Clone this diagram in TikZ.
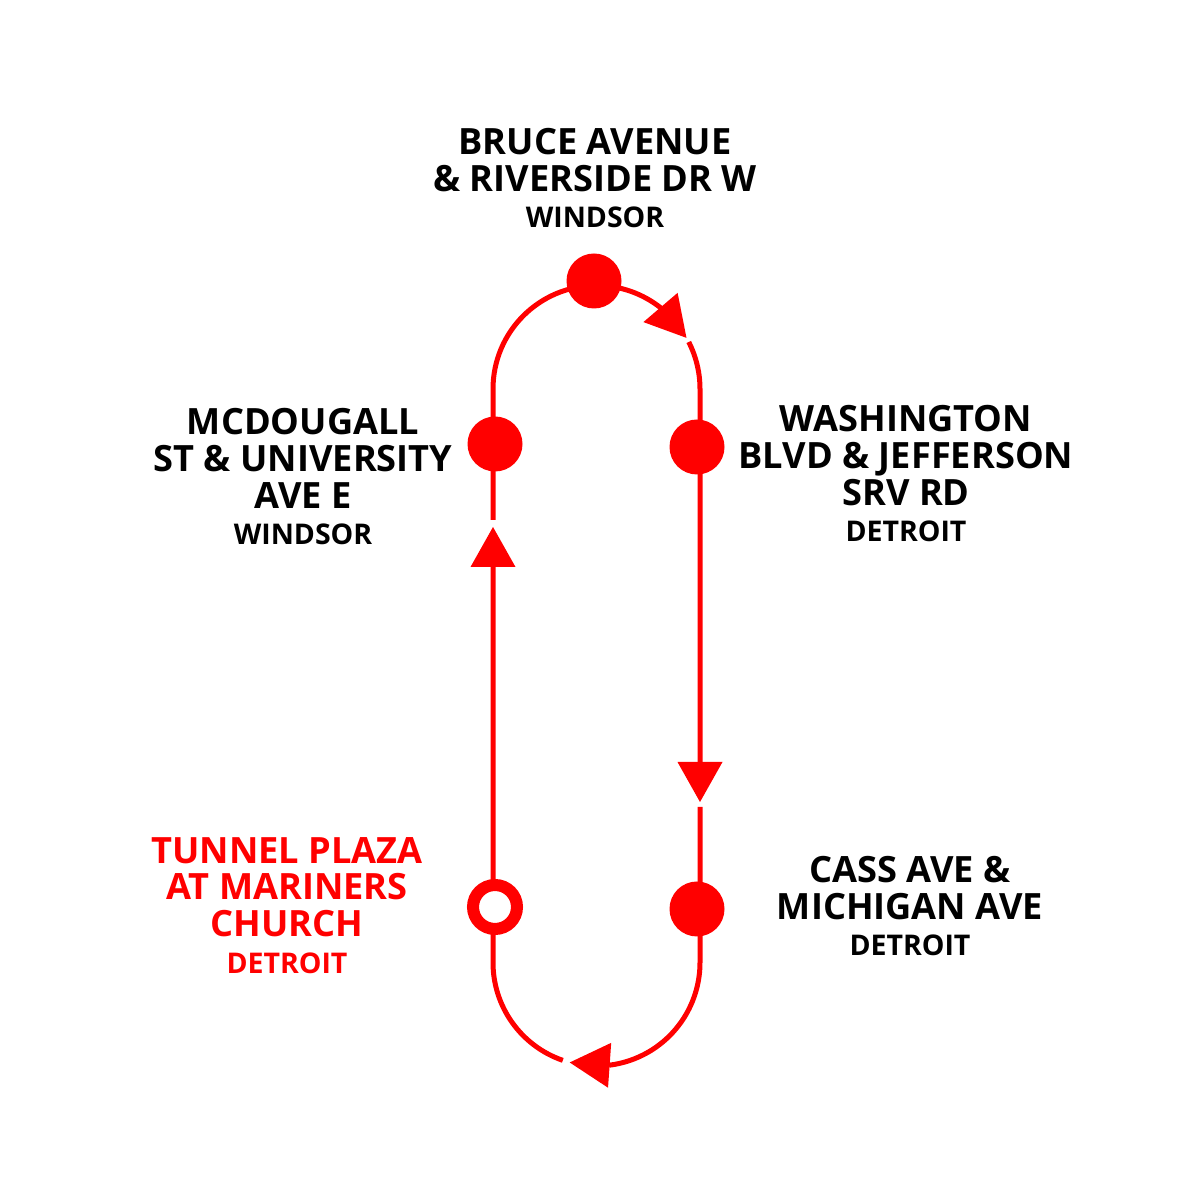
\documentclass[tikz,border=0pt]{standalone}
\usepackage{fontspec}
\setmainfont{Open Sans}
\usetikzlibrary{arrows.meta, bending, positioning}

\begin{document}
\begin{tikzpicture}[x=1pt, y=1pt,
		track/.style={draw=red, line width=5pt},
		trackarrow/.style={-{Triangle[length=40pt, width=45pt, line width=0pt, flex]}},
		stop/.style={circle, fill=red, minimum size=55pt, inner sep=0pt},
		terminus/.style={circle, draw=red, fill=white, line width=12pt, minimum size=44pt, inner sep=0pt},
		stopname/.style={font=\fontsize{36.2}{36.8}\selectfont\bfseries, align=center, anchor=north, inner sep=0pt},
		cityname/.style={font=\fontsize{28.5}{30}\selectfont\bfseries, inner sep=0pt}]
		\def\r{103.5pt};

		\fill[white] (0,0) rectangle (1200,1200);
		\useasboundingbox (0,0) rectangle (1200,1200);

		\coordinate (topcentre) at (596.5, 811);
		\coordinate (botcentre) at (596.5, 237.5);

		\begin{scope}[track, trackarrow]
			\draw ([shift={(-109:\r)}]botcentre) arc[start angle=-109, end angle=-180, radius=\r] -- (493, 673);
			\draw (493, 680) -- (493, 811) arc[start angle=180, end angle=29.6, radius=\r];
			\draw ([shift={(27:\r)}]topcentre) arc[start angle=27, end angle=0, radius=\r] -- (700, 398);
			\draw (700, 393) -- (700, 237.5) arc[start angle=0, end angle=-105, radius=\r];
		\end{scope}

		\node[stop] (bruce) at (594, 919) {};
		\node[stop] (mcdougall) at (495, 756) {};
		\node[stop] (washington) at (697, 753) {};
		\node[stop] (cass) at (697, 291) {};
		\node[terminus] (tunnel) at (495, 293) {};

		\node[stopname] (brucename) at (595, 1072) {BRUCE AVENUE\\\& RIVERSIDE DR W};
		\node[cityname, below=15pt of brucename] (brucecity) {WINDSOR};

		\node[stopname] (mcdougallname) at (303, 792) {MCDOUGALL\\ST \& UNIVERSITY\\AVE E};
		\node[cityname, below=15pt of mcdougallname] (mcdougallcity) {WINDSOR};

		\node[stopname] (washingtonname) at (906, 795) {WASHINGTON\\BLVD \& JEFFERSON\\SRV RD};
		\node[cityname, below=15pt of washingtonname] (washingtoncity) {DETROIT};

		\node[stopname] (cassname) at (910, 344) {CASS AVE \&\\MICHIGAN AVE};
		\node[cityname, below=15pt of cassname] (casscity) {DETROIT};

		\node[stopname, text=red] (tunnelname) at (287, 363) {TUNNEL PLAZA\\AT MARINERS\\CHURCH};
		\node[cityname, text=red, below=15pt of tunnelname] (tunnelcity) {DETROIT};
	\end{tikzpicture}
\end{document}
